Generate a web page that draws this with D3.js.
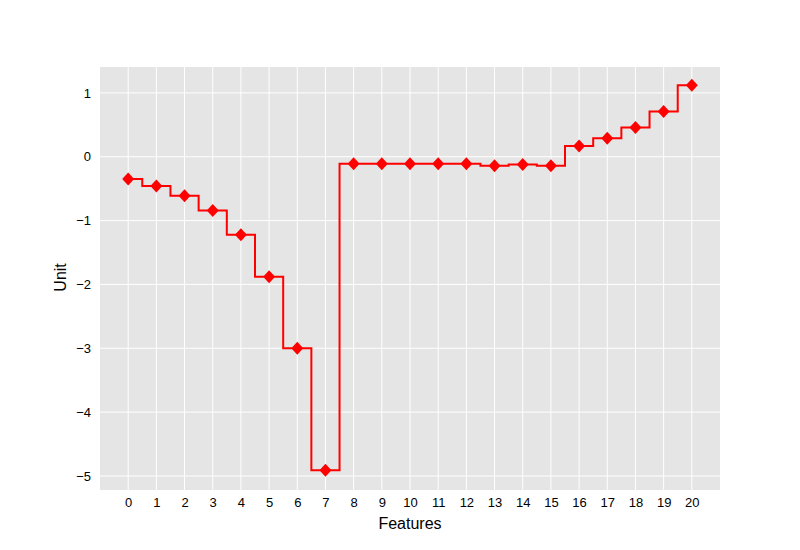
<!DOCTYPE html>
<html>
<head>
<meta charset="utf-8">
<script src="https://cdn.jsdelivr.net/npm/d3@7"></script>
<style>
  body { margin: 0; background: #fff; }
  svg text { font-family: "Liberation Sans", Arial, sans-serif; fill: #000; }
</style>
</head>
<body>
<div id="chart"></div>
<script>
// data
var features = d3.range(0, 21);
var values = [-0.35, -0.46, -0.61, -0.84, -1.22, -1.88, -3.00, -4.91,
              -0.11, -0.11, -0.11, -0.11, -0.11, -0.14, -0.12, -0.14,
              0.17, 0.29, 0.46, 0.71, 1.12];
var yTicks = [-5, -4, -3, -2, -1, 0, 1];

var width = 800, height = 550;
var margin = {top: 67, left: 100, right: 80, bot: 60};

var svg = d3.select("#chart").append("svg")
    .attr("width", width)
    .attr("height", height);

var x = d3.scaleLinear().domain([-1, 21]).range([margin.left, width - margin.right]);
var y = d3.scaleLinear().domain([-5.22, 1.406]).range([height - margin.bot, margin.top]);

// background
svg.append("rect")
    .attr("x", margin.left)
    .attr("y", margin.top)
    .attr("width", width - margin.left - margin.right)
    .attr("height", height - margin.top - margin.bot)
    .attr("fill", "#e5e5e5");

// grid
svg.append("g").selectAll("line").data(features).join("line")
    .attr("x1", d => x(d)).attr("x2", d => x(d))
    .attr("y1", margin.top).attr("y2", height - margin.bot)
    .attr("stroke", "#fff").attr("stroke-width", 1);
svg.append("g").selectAll("line").data(yTicks).join("line")
    .attr("y1", d => y(d)).attr("y2", d => y(d))
    .attr("x1", margin.left).attr("x2", width - margin.right)
    .attr("stroke", "#fff").attr("stroke-width", 1);

// axes
var xAxis = svg.append("g")
    .attr("transform", "translate(0," + (height - margin.bot) + ")")
    .call(d3.axisBottom(x).tickValues(features).tickSize(0).tickPadding(8));
var yAxis = svg.append("g")
    .attr("transform", "translate(" + margin.left + ",0)")
    .call(d3.axisLeft(y).tickValues(yTicks).tickSize(0).tickPadding(9)
          .tickFormat(d => d < 0 ? "\u2212" + Math.abs(d) : d));
[xAxis, yAxis].forEach(function(a) {
    a.select(".domain").remove();
    a.selectAll("text").attr("font-size", 13).attr("fill", "#000")
        .style("font-family", "Liberation Sans, Arial, sans-serif");
});

// axis labels
svg.append("text")
    .attr("x", x(10)).attr("y", 529)
    .attr("text-anchor", "middle").attr("font-size", 16)
    .text("Features");
svg.append("text")
    .attr("transform", "translate(66," + y(-1.89) + ") rotate(-90)")
    .attr("text-anchor", "middle").attr("font-size", 16)
    .text("Unit");

// step line (mid)
var pts = features.map((f, i) => ({f: f, v: values[i]}));
var line = d3.line().x(d => x(d.f)).y(d => y(d.v)).curve(d3.curveStep);
svg.append("path")
    .datum(pts)
    .attr("d", line)
    .attr("fill", "none")
    .attr("stroke", "#ff0000")
    .attr("stroke-width", 2);

// diamond markers
svg.append("g").selectAll("path").data(pts).join("path")
    .attr("transform", d => "translate(" + x(d.f) + "," + y(d.v) + ")")
    .attr("d", "M0,-6.5L6,0L0,6.5L-6,0Z")
    .attr("fill", "#ff0000");
</script>
</body>
</html>
